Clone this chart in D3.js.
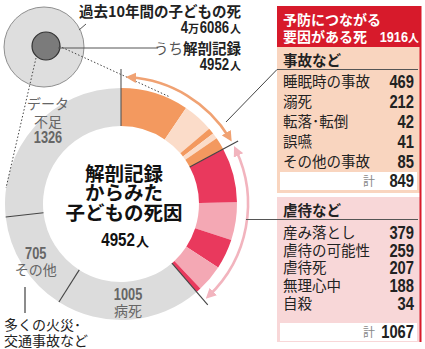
<!DOCTYPE html>
<html><head><meta charset="utf-8">
<script src="https://cdn.jsdelivr.net/npm/d3@7"></script>
<style>
body{margin:0;background:#fff;}
svg{display:block;}
text{font-family:"Noto Sans CJK JP","Noto Sans",sans-serif;}
.num{font-family:"Liberation Sans",Arial,sans-serif;font-weight:bold;}
</style></head>
<body>
<svg id="chart" width="425" height="349"></svg>
<script>
// ---- data ----
const accidentLabels = ["睡眠時の事故","溺死","転落･転倒","誤嚥","その他の事故"];
const accidentValues = [469,212,42,41,85];
const abuseLabels = ["産み落とし","虐待の可能性","虐待死","無理心中","自殺"];
const abuseValues = [379,259,207,188,34];
const otherLabels = ["病死","その他","データ不足"];
const otherValues = [1005,705,1326];
const totalDeathsMan = 4, totalDeathsRest = "6086";
const autopsyTotal = 4952;
const preventableTotal = 1916;

// ---- layout ----
const svg = d3.select("#chart");
const cx = 121, cy = 204, rOut = 116, rIn = 78;
const pt = (a, r) => [cx + r*Math.sin(a), cy - r*Math.cos(a)];
const deg = d => d*Math.PI/180;

// condensed bold number helper
function num(x, y, txt, size, anchor, fill, sx){
  const g = svg.append("g").attr("transform",`translate(${x},${y}) scale(${sx||0.82},1)`);
  return g.append("text").attr("class","num").attr("text-anchor",anchor||"start")
    .attr("font-size",size).attr("fill",fill||"#222").text(txt);
}
function jp(x, y, txt, size, opts){
  opts = opts||{};
  return svg.append("text").attr("x",x).attr("y",y).attr("font-size",size)
    .attr("text-anchor",opts.anchor||"start").attr("fill",opts.fill||"#222")
    .attr("font-weight",opts.bold?"bold":"normal").text(txt);
}

const items = [
  ...accidentLabels.map((l,i)=>({label:l,value:accidentValues[i],group:"acc",i})),
  ...abuseLabels.map((l,i)=>({label:l,value:abuseValues[i],group:"abu",i})),
  ...otherLabels.map((l,i)=>({label:l,value:otherValues[i],group:"oth",i}))
];
const pie = d3.pie().sort(null).value(d=>d.value).startAngle(0).endAngle(2*Math.PI);
const arcs = pie(items);
const arc = d3.arc().innerRadius(rIn).outerRadius(rOut);
const color = d => d.group==="acc" ? (d.i%2===0 ? "#f3995f" : "#fbdcc9")
                : d.group==="abu" ? (d.i%2===0 ? "#e9395d" : "#f4a8b4") : "#dcdcdc";

// ---- top-left circles ----
svg.append("circle").attr("cx",44).attr("cy",47).attr("r",40).attr("fill","#dedede").attr("stroke","#8f8f8f").attr("stroke-width",1);
svg.append("circle").attr("cx",46).attr("cy",46).attr("r",14).attr("fill","#7b7b7b").attr("stroke","#333").attr("stroke-width",1.2);
svg.append("line").attr("x1",79).attr("y1",30).attr("x2",86).attr("y2",24).attr("stroke","#555");
svg.append("line").attr("x1",58).attr("y1",48).attr("x2",158).attr("y2",48).attr("stroke","#555");

jp(241, 17, "過去10年間の子どもの死", 14.5, {anchor:"end", bold:true});
jp(241, 33, "人", 11, {anchor:"end", bold:true});
num(229, 33, totalDeathsRest, 16, "end");
jp(199, 33, "万", 11, {anchor:"end", bold:true});
num(188, 33, totalDeathsMan, 16, "end");
const t2 = svg.append("text").attr("x",241).attr("y",54).attr("text-anchor","end").attr("fill","#222").attr("font-size",14.5);
t2.append("tspan").attr("fill","#555").text("うち");
t2.append("tspan").attr("font-weight","bold").text("解剖記録");
jp(241, 70, "人", 11, {anchor:"end", bold:true});
num(229, 70, autopsyTotal, 16, "end");

// ---- donut ----
svg.append("g").selectAll("path").data(arcs).join("path")
  .attr("transform",`translate(${cx},${cy})`)
  .attr("d",arc).attr("fill",d=>color(d.data));

// dotted zoom lines
svg.append("line").attr("x1",36).attr("y1",58).attr("x2",6).attr("y2",188).attr("stroke","#444").attr("stroke-dasharray","1.5,2");
svg.append("line").attr("x1",59).attr("y1",46).attr("x2",170).attr("y2",97).attr("stroke","#444").attr("stroke-dasharray","1.5,2");

// boundary lines
const nA = accidentLabels.length, nB = abuseLabels.length;
const accEnd = arcs[nA-1].endAngle;
const abuEnd = arcs[nA+nB-1].endAngle;
const sickEnd = arcs[nA+nB].endAngle;
const othEnd = arcs[nA+nB+1].endAngle;
const bline = (a, r1, r2, col) => {
  const p1 = pt(a,r1), p2 = pt(a,r2);
  svg.append("line").attr("x1",p1[0]).attr("y1",p1[1]).attr("x2",p2[0]).attr("y2",p2[1]).attr("stroke",col||"#444").attr("stroke-width",1.1);
};
bline(0, rIn, 135, "#555");
bline(accEnd, rIn, 133);
bline(abuEnd, rIn, 133);
bline(sickEnd, rIn, rOut);
bline(othEnd, rIn, rOut);

// arrows
const defs = svg.append("defs");
[["ao","#f0a273"],["ap","#f2b4be"]].forEach(([id,c])=>{
  defs.append("marker").attr("id",id).attr("viewBox","0 0 10 10").attr("refX",6).attr("refY",5)
    .attr("markerWidth",4).attr("markerHeight",4).attr("orient","auto-start-reverse")
    .append("path").attr("d","M0,0 L10,5 L0,10 z").attr("fill",c);
});
const arrowArc = (a1,a2,r,c,id)=>{
  const p = d3.path();
  p.arc(cx, cy, r, a1-Math.PI/2, a2-Math.PI/2);
  svg.append("path").attr("d",p.toString()).attr("fill","none").attr("stroke",c).attr("stroke-width",2.6)
    .attr("marker-start",`url(#${id})`).attr("marker-end",`url(#${id})`);
};
arrowArc(deg(4), accEnd-deg(3), 127, "#f0a273", "ao");
arrowArc(accEnd+deg(3), abuEnd-deg(3), 127, "#f2b4be", "ap");

// gray segment labels
const cSick = arc.centroid(arcs[nA+nB]);
num(cx+cSick[0], cy+cSick[1]-1, otherValues[0], 16, "middle", "#666", 0.8);
jp(cx+cSick[0], cy+cSick[1]+15, otherLabels[0], 14, {anchor:"middle", fill:"#666"});
const cOth = arc.centroid(arcs[nA+nB+1]);
num(cx+cOth[0]-3, cy+cOth[1]+4, otherValues[1], 16, "middle", "#666", 0.8);
jp(cx+cOth[0]-3, cy+cOth[1]+20, otherLabels[1], 14, {anchor:"middle", fill:"#666"});
jp(48, 109, "データ", 14, {anchor:"middle", fill:"#666"});
jp(48, 127, "不足", 14, {anchor:"middle", fill:"#666"});
num(48, 143, otherValues[2], 16, "middle", "#666", 0.8);

svg.append("line").attr("x1",25).attr("y1",287).attr("x2",25).attr("y2",313).attr("stroke","#666").attr("stroke-width",1.5);
jp(4, 330, "多くの火災･", 14);
jp(4, 346, "交通事故など", 14);

// center text
[["解剖記録",181],["からみた",200],["子どもの死因",220]].forEach(([t,y])=>{
  jp(124, y, t, 19.5, {anchor:"middle", bold:true, fill:"#111"});
});
jp(149, 246, "人", 13, {anchor:"end", bold:true, fill:"#111"});
num(135, 246, autopsyTotal, 18.5, "end", "#111", 0.82);

// ---- table ----
const tx = 277, tw = 144, vx = 414, lx = 283;
svg.append("rect").attr("x",tx).attr("y",6).attr("width",tw).attr("height",41).attr("fill","#d71a2b");
jp(lx, 25, "予防につながる", 14, {bold:true, fill:"#fff"});
jp(lx, 42, "要因がある死", 14, {bold:true, fill:"#fff"});
jp(419, 42, "人", 11, {anchor:"end", bold:true, fill:"#fff"});
num(408, 42, preventableTotal, 15, "end", "#fff", 0.85);

function block(y0, h, fill, title, labels, values, rowY, sumY, lineX1){
  svg.append("rect").attr("x",tx).attr("y",y0).attr("width",tw).attr("height",h).attr("fill",fill);
  jp(lx, y0+19, title, 14.5, {bold:true});
  svg.append("line").attr("x1",lineX1).attr("y1",y0+22.5).attr("x2",418).attr("y2",y0+22.5).attr("stroke","#555").attr("stroke-width",1);
  labels.forEach((l,i)=>{
    const y = rowY(i);
    jp(lx, y, l, 14.5);
    num(vx, y+1, values[i], 18, "end", "#222", 0.82);
  });
  svg.append("rect").attr("x",tx+3).attr("y",sumY-14).attr("width",tw-7).attr("height",18).attr("fill","#fff");
  jp(363, sumY, "計", 12, {fill:"#888"});
  num(vx, sumY+1, d3.sum(values), 18, "end", "#222", 0.82);
}
block(47, 146, "#f9d5bf", "事故など", accidentLabels, accidentValues, i=>87+i*20, 186, 277);
block(197, 145, "#f8d7d8", "虐待など", abuseLabels, abuseValues, i=>238+i*17.7, 337, 246);
svg.append("line").attr("x1",277).attr("y1",69.5).attr("x2",226).attr("y2",122).attr("stroke","#444").attr("stroke-width",1);
svg.append("line").attr("x1",420.5).attr("y1",6).attr("x2",420.5).attr("y2",342).attr("stroke","#d71a2b").attr("stroke-width",2);
</script>
</body></html>
